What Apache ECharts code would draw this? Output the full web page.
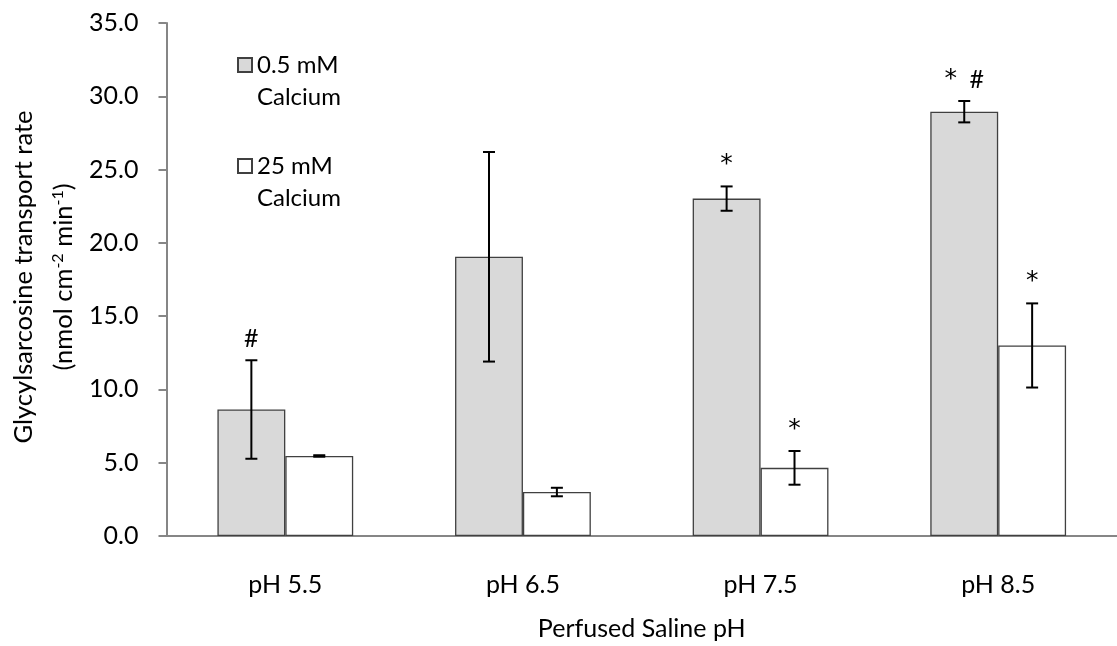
<!DOCTYPE html>
<html>
<head>
<meta charset="utf-8">
<script src="https://cdn.jsdelivr.net/npm/echarts@6/dist/echarts.min.js"></script>
<style>
  html, body { margin: 0; padding: 0; background: #fff; }
  #chart { width: 1117px; height: 646px; }
</style>
</head>
<body>
<div id="chart"></div>
<script>
// Perfused saline pH groups
const categories = ['pH 5.5', 'pH 6.5', 'pH 7.5', 'pH 8.5'];

// 0.5 mM calcium: mean transport rate and error (nmol cm-2 min-1)
const lowCaMean = [8.63, 19.05, 23.02, 28.95];
const lowCaErr = [3.36, 7.15, 0.83, 0.73];
const lowCaMarks = ['#', '', '*', '* #'];

// 25 mM calcium
const highCaMean = [5.46, 3.0, 4.65, 13.0];
const highCaErr = [0.05, 0.29, 1.15, 2.87];
const highCaMarks = ['', '', '*', '*'];

const yTicks = { min: 0, max: 35, interval: 5 };

const seriesNames = ['0.5 mM Calcium', '25 mM Calcium'];

const FONT = 'Lato';
const CAT_GAP = 0.428571; // bar category gap fraction (Excel gap width 150%)

function errorSeries(means, errs, marks, side) {
  return {
    type: 'custom',
    z: 5,
    silent: true,
    data: means.map((m, i) => [i, m, errs[i]]),
    renderItem: function (params, api) {
      const i = api.value(0), m = api.value(1), e = api.value(2);
      const catW = api.size([1, 0])[0];
      const bw = catW * (1 - CAT_GAP) / 2;
      const x = api.coord([i, m])[0] + side * bw / 2;
      const yTop = api.coord([i, m + e])[1];
      const yBot = api.coord([i, m - e])[1];
      const cap = 6;
      const ls = { stroke: '#000', lineWidth: 2 };
      const children = [
        { type: 'line', shape: { x1: x, y1: yTop, x2: x, y2: yBot }, style: ls },
        { type: 'line', shape: { x1: x - cap, y1: yTop, x2: x + cap, y2: yTop }, style: ls },
        { type: 'line', shape: { x1: x - cap, y1: yBot, x2: x + cap, y2: yBot }, style: ls }
      ];
      const mark = marks[params.dataIndex];
      if (mark) {
        children.push({
          type: 'text',
          style: {
            text: mark.replace(/\*/g, '{s|*}').replace(/ /g, '{sp| }'), x: x, y: yTop - 9,
            align: 'center', verticalAlign: 'bottom',
            font: '25px ' + FONT, fill: '#000',
            rich: {
              s: { fontFamily: 'DejaVu Sans', fontSize: 25, fill: '#000' },
              sp: { fontSize: 25, fontFamily: FONT, padding: [0, 3, 0, 3] }
            }
          }
        });
      }
      return { type: 'group', children: children };
    }
  };
}

const chart = echarts.init(document.getElementById('chart'));
chart.setOption({
  animation: false,
  backgroundColor: '#fff',
  textStyle: { fontFamily: FONT },
  grid: { left: 166.5, top: 23, width: 958, height: 519.5, containLabel: false },
  legend: {
    data: seriesNames,
    orient: 'vertical',
    left: 237,
    top: 17,
    padding: 0,
    itemGap: 5,
    itemWidth: 14,
    itemHeight: 14,
    icon: 'rect',
    selectedMode: false,
    // a blank first line keeps the swatch level with the first text line
    formatter: name => '\u00a0\n' + name.replace(' Calcium', '\nCalcium'),
    textStyle: { fontFamily: FONT, fontSize: 24, color: '#000', lineHeight: 32 }
  },
  xAxis: {
    type: 'category',
    data: categories,
    axisLine: { lineStyle: { color: '#868686', width: 2 } },
    axisTick: { show: false },
    axisLabel: { color: '#000', fontSize: 25, fontFamily: FONT, margin: 36 },
    name: 'Perfused Saline pH',
    nameLocation: 'middle',
    nameGap: 80,
    nameTextStyle: { color: '#000', fontSize: 25, fontFamily: FONT }
  },
  yAxis: {
    type: 'value',
    min: yTicks.min, max: yTicks.max, interval: yTicks.interval,
    axisLine: { show: true, lineStyle: { color: '#868686', width: 2 } },
    axisTick: { show: true, length: 8, lineStyle: { color: '#868686', width: 2 } },
    splitLine: { show: false },
    axisLabel: { color: '#000', fontSize: 25, fontFamily: FONT, margin: 28, formatter: v => v.toFixed(1) }
  },
  graphic: [{
    type: 'text',
    x: 44, y: 277,
    rotation: Math.PI / 2,
    style: {
      text: 'Glycylsarcosine transport rate\n(nmol cm{sup|-2} min{sup|-1})',
      font: '25.5px ' + FONT,
      fill: '#000',
      align: 'center',
      verticalAlign: 'middle',
      lineHeight: 40,
      rich: {
        sup: { fontSize: 16, fontFamily: FONT, lineHeight: 16, verticalAlign: 'middle', padding: [0, 0, 13, 0], fill: '#000' }
      }
    }
  }],
  series: [
    {
      name: seriesNames[0], type: 'bar', data: lowCaMean,
      barGap: '0%', barCategoryGap: (CAT_GAP * 100) + '%',
      itemStyle: { color: '#d9d9d9', borderColor: '#404040', borderWidth: 1.3 }
    },
    {
      name: seriesNames[1], type: 'bar', data: highCaMean,
      barGap: '0%', barCategoryGap: (CAT_GAP * 100) + '%',
      itemStyle: { color: '#ffffff', borderColor: '#404040', borderWidth: 1.3 }
    },
    errorSeries(lowCaMean, lowCaErr, lowCaMarks, -1),
    errorSeries(highCaMean, highCaErr, highCaMarks, 1)
  ]
});
</script>
</body>
</html>
